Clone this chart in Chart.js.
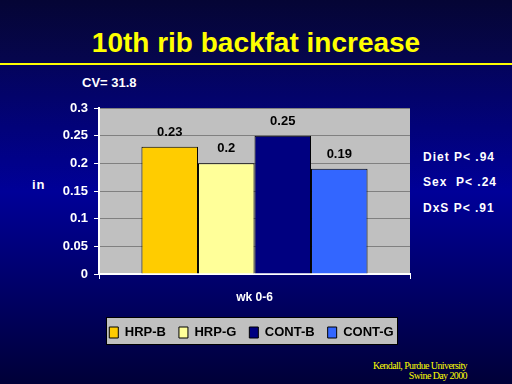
<!DOCTYPE html>
<html>
<head>
<meta charset="utf-8">
<script src="https://cdn.jsdelivr.net/npm/chart.js@4.4.1/dist/chart.umd.min.js"></script>
<style>
  html, body { margin: 0; padding: 0; }
  body {
    width: 512px; height: 384px; overflow: hidden; position: relative;
    font-family: "Liberation Sans", Arial, sans-serif;
    background: linear-gradient(to bottom, #050535 0%, #06064e 16%, #04045c 17%, #000098 50%, #000038 100%);
  }
  .txt { position: absolute; line-height: 1; white-space: pre; font-weight: bold; }
  #titolo { left: 0; width: 512px; top: 29px; text-align: center; font-size: 28px; color: #ffff00; }
  #riga { position: absolute; left: 0; top: 63px; width: 512px; height: 2px; background: #ffff00; }
  #cv { left: 82px; top: 76px; font-size: 13px; color: #fff; }
  #unita { left: 32px; top: 178px; font-size: 13px; color: #fff; letter-spacing: 1px; }
  .stat { left: 423px; font-size: 12px; color: #fff; letter-spacing: 1px; }
  .fonte { right: 45px; font-family: "Liberation Serif", "Times New Roman", serif; font-weight: normal;
           font-size: 10px; color: #ffff00; letter-spacing: -0.6px; text-align: right; }
  #grafico { position: absolute; left: 0; top: 0; }
</style>
</head>
<body>
<div id="titolo" class="txt">10th rib backfat increase</div>
<div id="riga"></div>
<div id="cv" class="txt">CV= 31.8</div>
<div id="unita" class="txt">in</div>
<div class="txt stat" style="top:151px">Diet P&lt; .94</div>
<div class="txt stat" style="top:176px">Sex  P&lt; .24</div>
<div class="txt stat" style="top:202px">DxS P&lt; .91</div>
<div class="txt fonte" style="top:361px">Kendall, Purdue University</div>
<div class="txt fonte" style="top:371px">Swine Day 2000</div>
<canvas id="grafico" width="512" height="384"></canvas>

<script>
// dati
var categorie = ['wk 0-6'];
var serie = ['HRP-B', 'HRP-G', 'CONT-B', 'CONT-G'];
var hrp_b = [0.23];
var hrp_g = [0.2];
var cont_b = [0.25];
var cont_g = [0.19];
var colori = ['#ffcc00', '#ffff99', '#000080', '#3366ff'];

var valori = [hrp_b, hrp_g, cont_b, cont_g];
var datasets = [];
for (var i = 0; i < serie.length; i++) {
    datasets.push({
        label: serie[i],
        data: valori[i],
        backgroundColor: colori[i],
        borderColor: '#000',
        borderWidth: 1,
        barPercentage: 1,
        categoryPercentage: 0.727
    });
}

// sfondo grigio dell'area del grafico e riquadro della legenda
var sfondo = {
    id: 'sfondo',
    beforeDraw: function(chart) {
        var ctx = chart.ctx;
        var a = chart.chartArea;
        ctx.save();
        ctx.fillStyle = '#c0c0c0';
        ctx.fillRect(a.left, a.top, a.right - a.left, a.bottom - a.top);
        var box = chart.legend.legendHitBoxes;
        if (box && box.length) {
            var primo = box[0];
            var ultimo = box[box.length - 1];
            var x1 = Math.round(primo.left - 3) + 0.5;
            var x2 = Math.round(ultimo.left + ultimo.width + 3) + 0.5;
            var y1 = Math.round(primo.top - 9) + 0.5;
            var y2 = Math.round(primo.top + primo.height + 5) + 0.5;
            ctx.fillStyle = '#c0c0c0';
            ctx.fillRect(x1, y1, x2 - x1, y2 - y1);
            ctx.strokeStyle = '#000';
            ctx.lineWidth = 1;
            ctx.strokeRect(x1, y1, x2 - x1, y2 - y1);
        }
        ctx.restore();
    }
};

// etichette dei valori sopra le barre
var etichette = {
    id: 'etichette',
    afterDatasetsDraw: function(chart) {
        var ctx = chart.ctx;
        ctx.save();
        ctx.font = 'bold 13px "Liberation Sans", Arial';
        ctx.fillStyle = '#000';
        ctx.textAlign = 'center';
        ctx.textBaseline = 'alphabetic';
        chart.data.datasets.forEach(function(ds, i) {
            chart.getDatasetMeta(i).data.forEach(function(bar, j) {
                ctx.fillText(String(ds.data[j]), bar.x, bar.y - 11);
            });
        });
        ctx.restore();
    }
};

var ctx = document.getElementById('grafico').getContext('2d');
var myChart = new Chart(ctx, {
    type: 'bar',
    data: {
        labels: categorie,
        datasets: datasets
    },
    options: {
        responsive: false,
        animation: false,
        devicePixelRatio: 1,
        layout: {
            padding: { top: 108, left: 0, right: 9, bottom: 35 }
        },
        plugins: {
            legend: {
                position: 'bottom',
                labels: {
                    boxWidth: 9,
                    boxHeight: 11,
                    padding: 13,
                    color: '#000',
                    font: { family: '"Liberation Sans", Arial', size: 13, weight: 'bold' }
                }
            },
            tooltip: { enabled: false }
        },
        scales: {
            x: {
                grid: { display: true, drawOnChartArea: false, drawTicks: true, tickLength: 5, color: '#fff' },
                border: { color: '#fff', width: 2 },
                ticks: {
                    color: '#fff',
                    padding: 11,
                    font: { family: '"Liberation Sans", Arial', size: 12, weight: 'bold' }
                },
                afterFit: function(scale) { scale.height = 39; }
            },
            y: {
                min: 0,
                max: 0.3,
                ticks: {
                    stepSize: 0.05,
                    color: '#fff',
                    padding: 6,
                    font: { family: '"Liberation Sans", Arial', size: 13, weight: 'bold' },
                    // 0.3 e non 0.30, come nel grafico originale
                    callback: function(value) { return String(Number(value.toFixed(2))); }
                },
                grid: { color: '#808080', tickColor: '#fff', tickLength: 5 },
                border: { color: '#fff', width: 2 },
                afterFit: function(scale) { scale.width = 99; }
            },
            destra: {
                position: 'right',
                display: true,
                grid: { display: false },
                border: { display: false },
                ticks: { display: false },
                afterFit: function(scale) { scale.width = 93; }
            }
        }
    },
    plugins: [sfondo, etichette]
});
</script>
</body>
</html>
